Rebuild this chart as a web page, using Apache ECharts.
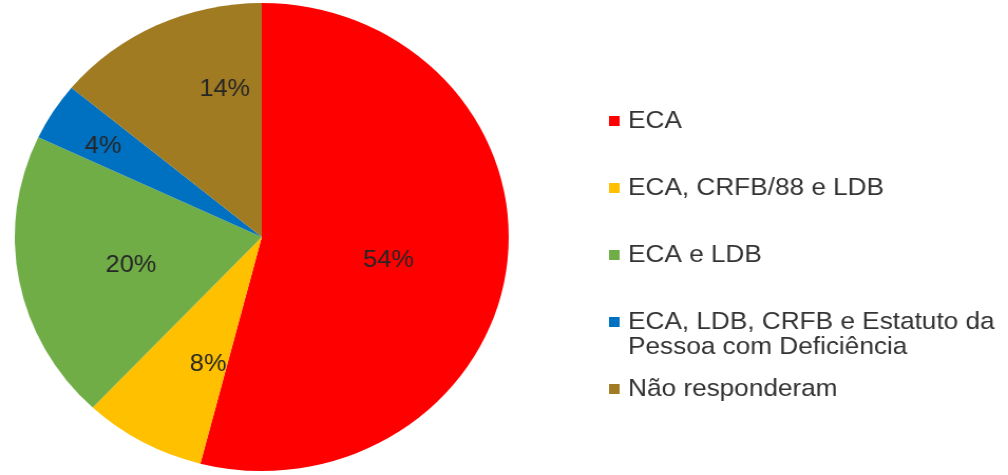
<!DOCTYPE html>
<html>
<head>
<meta charset="utf-8">
<script src="https://cdn.jsdelivr.net/npm/echarts@6/dist/echarts.min.js"></script>
<style>
  html, body { margin: 0; padding: 0; background: #ffffff; overflow: hidden; }
  /* the figure is slightly wider than tall, so the drawing is stretched horizontally */
  #chart { width: 955px; height: 475px; transform: scaleX(1.0555); transform-origin: 0 0; }
</style>
</head>
<body>
<div id="chart"></div>
<script>
// Categories, shares (%) and colours of the pie
const categories = [
  'ECA',
  'ECA, CRFB/88 e LDB',
  'ECA e LDB',
  'ECA, LDB, CRFB e Estatuto da Pessoa com Deficiência',
  'Não responderam'
];
const shares = [54, 8, 20, 4, 14];
const sliceColors = ['#FF0000', '#FFC000', '#70AD47', '#0070C0', '#A17B22'];

// Legend text lines for each category
const legendLines = [
  ['ECA'],
  ['ECA, CRFB/88 e LDB'],
  ['ECA e LDB'],
  ['ECA, LDB, CRFB e Estatuto da', 'Pessoa com Deficiência'],
  ['Não responderam']
];

// Layout settings
const FONT = 'Arial, "Liberation Sans", sans-serif';
const PIE_CENTER = [248, 237];
const PIE_RADIUS = 234;
const LINE_H = 25;
const LEGEND_LEFT = 577;
const LEGEND_FIRST_ROW = 121;
const LEGEND_ROW_STEP = 67;
// small nudges (px) of each value label away from its default inside spot
const labelNudge = [[1, 8], [7, 22], [-6, 6], [-49, -26], [16, -39]];

const chart = echarts.init(document.getElementById('chart'), null, { renderer: 'canvas' });

const legends = categories.map((name, i) => {
  const lines = legendLines[i];
  const extraTop = (lines.length - 1) * LINE_H;
  return {
    show: true,
    orient: 'vertical',
    left: LEGEND_LEFT,
    top: LEGEND_FIRST_ROW + i * LEGEND_ROW_STEP - LINE_H / 2 - extraTop,
    padding: 0,
    itemWidth: 10,
    itemHeight: 10,
    icon: 'rect',
    selectedMode: false,
    data: [{ name: name, itemStyle: { color: sliceColors[i] } }],
    formatter: () => lines.map(t => '{t|' + t + '}').join('\n'),
    textStyle: {
      backgroundColor: 'rgba(0,0,0,0)',
      padding: [extraTop, 0, 0, 3],
      rich: {
        t: { fontFamily: FONT, fontSize: 24.8, lineHeight: LINE_H, color: '#333333' }
      }
    }
  };
});

chart.setOption({
  backgroundColor: '#ffffff',
  animation: false,
  legend: legends,
  series: [{
    type: 'pie',
    center: PIE_CENTER,
    radius: [0, PIE_RADIUS],
    startAngle: 90,
    clockwise: true,
    avoidLabelOverlap: false,
    data: categories.map((name, i) => ({
      name: name,
      value: shares[i],
      itemStyle: { color: sliceColors[i] }
    })),
    itemStyle: { borderWidth: 0 },
    label: {
      show: true,
      position: 'inside',
      formatter: '{c}%',
      fontFamily: FONT,
      fontSize: 24,
      color: '#262626'
    },
    labelLine: { show: false },
    labelLayout: (params) => ({
      dx: labelNudge[params.dataIndex][0],
      dy: labelNudge[params.dataIndex][1]
    }),
    emphasis: { disabled: true }
  }]
});
</script>
</body>
</html>
